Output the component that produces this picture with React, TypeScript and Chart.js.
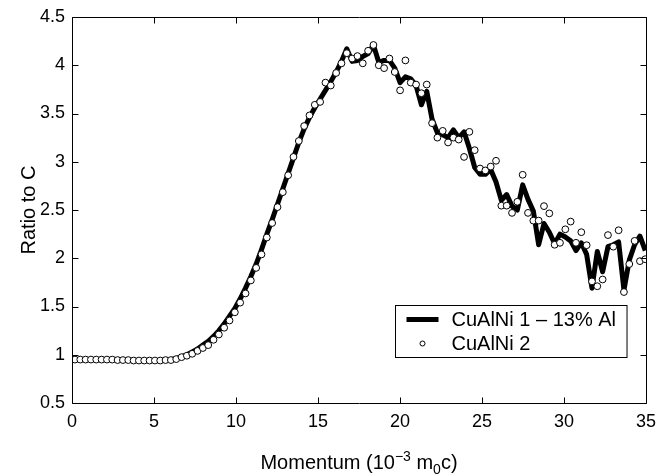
import React, { useEffect, useRef } from 'react';
import { Chart, registerables } from 'chart.js';

Chart.register(...registerables);

// Momentum values (10^-3 m0c) of the sampled points
const momentum = [
  0.18, 0.505, 0.83, 1.155, 1.48, 1.805, 2.13, 2.455, 2.78, 3.105,
  3.43, 3.755, 4.08, 4.405, 4.73, 5.055, 5.38, 5.705, 6.03, 6.355,
  6.68, 7.005, 7.33, 7.655, 7.98, 8.305, 8.63, 8.955, 9.28, 9.605,
  9.93, 10.255, 10.58, 10.905, 11.23, 11.555, 11.88, 12.205, 12.53, 12.855,
  13.18, 13.505, 13.83, 14.155, 14.48, 14.805, 15.13, 15.455, 15.78, 16.105,
  16.43, 16.755, 17.08, 17.405, 17.73, 18.055, 18.38, 18.705, 19.03, 19.355,
  19.68, 20.005, 20.33, 20.655, 20.98, 21.305, 21.63, 21.955, 22.28, 22.605,
  22.93, 23.255, 23.58, 23.905, 24.23, 24.555, 24.88, 25.205, 25.53, 25.855,
  26.18, 26.505, 26.83, 27.155, 27.48, 27.805, 28.13, 28.455, 28.78, 29.105,
  29.43, 29.755, 30.08, 30.405, 30.73, 31.055, 31.38, 31.705, 32.03, 32.355,
  32.68, 33.005, 33.33, 33.655, 33.98, 34.305, 34.63, 34.955,
];

// CuAlNi 1 – 13% Al (thick line)
const cualni1 = [
  0.95, 0.95, 0.95, 0.95, 0.95, 0.95, 0.95, 0.95, 0.95, 0.95,
  0.945, 0.94, 0.94, 0.94, 0.94, 0.94, 0.94, 0.945, 0.95, 0.96,
  0.98, 1.0, 1.03, 1.06, 1.1, 1.14, 1.19, 1.25, 1.32, 1.4,
  1.48, 1.58, 1.69, 1.81, 1.94, 2.09, 2.25, 2.4, 2.56, 2.72,
  2.88, 3.04, 3.2, 3.34, 3.46, 3.56, 3.65, 3.74, 3.83, 3.93,
  4.04, 4.17, 4.04, 4.05, 4.09, 4.12, 4.21, 4.03, 4.05, 4.05,
  3.97, 3.82, 3.88, 3.86, 3.79, 3.59, 3.73, 3.44, 3.3, 3.28,
  3.25, 3.33, 3.25, 3.31, 3.14, 2.94, 2.87, 2.87, 2.92, 2.79,
  2.6, 2.66, 2.54, 2.5, 2.76, 2.61, 2.49, 2.14, 2.36, 2.27,
  2.15, 2.25, 2.22, 2.18, 2.08, 2.16, 2.04, 1.69, 2.07, 1.86,
  2.12, 2.14, 2.17, 1.67, 1.98, 2.14, 2.23, 2.08,
];

// CuAlNi 2 (open circles)
const cualni2 = [
  0.95, 0.95, 0.95, 0.95, 0.95, 0.95, 0.95, 0.95, 0.945, 0.945,
  0.945, 0.94, 0.94, 0.94, 0.94, 0.94, 0.94, 0.945, 0.945, 0.955,
  0.975, 0.99, 1.01, 1.04, 1.07, 1.1, 1.155, 1.21, 1.28, 1.355,
  1.44, 1.54, 1.635, 1.77, 1.9, 2.04, 2.215, 2.365, 2.53, 2.685,
  2.86, 3.05, 3.215, 3.37, 3.48, 3.59, 3.62, 3.82, 3.79, 3.92,
  4.02, 4.125, 4.07, 4.095, 4.02, 4.15, 4.21, 4.0, 3.97, 4.07,
  3.93, 3.74, 4.05, 3.82, 3.8, 3.71, 3.8, 3.4, 3.25, 3.32,
  3.2, 3.25, 3.23, 3.05, 3.31, 3.12, 2.93, 2.91, 2.95, 3.01,
  2.545, 2.545, 2.47, 2.585, 2.865, 2.47, 2.39, 2.39, 2.54, 2.465,
  2.14, 2.16, 2.3, 2.38, 2.16, 2.27, 2.135, 1.76, 1.71, 1.78,
  2.24, 2.12, 2.29, 1.65, 1.94, 2.18, 1.97, 1.99,
];

const seriesNames = ['CuAlNi 1 \u2013 13% Al', 'CuAlNi 2'];
const xRange = [0, 35];
const yRange = [0.5, 4.5];
const xStep = 5;
const yStep = 0.5;
const yTitle = 'Ratio to C';
// x title pieces: [text, kind]
const xTitleParts: [string, string][] = [
  ['Momentum (10', 'normal'],
  ['\u22123', 'sup'],
  [' m', 'normal'],
  ['0', 'sub'],
  ['c)', 'normal'],
];

const FAMILY = '"Liberation Sans", Arial, Helvetica, sans-serif';
const font = (size: number) => `${size}px ${FAMILY}`;

const framePlugin = {
  id: 'frame',
  afterDatasetsDraw(chart: any) {
    const { ctx, chartArea: ca, scales } = chart;
    const L = Math.round(ca.left) + 0.5;
    const R = Math.round(ca.right) + 0.5;
    const T = Math.round(ca.top) + 0.5;
    const B = Math.round(ca.bottom) + 0.5;
    ctx.save();
    ctx.strokeStyle = '#000';
    ctx.lineWidth = 1;
    ctx.beginPath();
    ctx.rect(L, T, R - L, B - T);
    const tl = 6;
    scales.x.ticks.forEach((t: any) => {
      const px = Math.round(scales.x.getPixelForValue(t.value)) + 0.5;
      ctx.moveTo(px, B); ctx.lineTo(px, B - tl);
      ctx.moveTo(px, T); ctx.lineTo(px, T + tl);
    });
    scales.y.ticks.forEach((t: any) => {
      const py = Math.round(scales.y.getPixelForValue(t.value)) + 0.5;
      ctx.moveTo(L, py); ctx.lineTo(L + tl, py);
      ctx.moveTo(R, py); ctx.lineTo(R - tl, py);
    });
    ctx.stroke();
    ctx.restore();
  },
  afterDraw(chart: any) {
    const { ctx, chartArea: ca } = chart;
    ctx.save();
    ctx.fillStyle = '#000';
    ctx.strokeStyle = '#000';

    // Y title
    ctx.font = font(20);
    ctx.textAlign = 'center';
    ctx.textBaseline = 'middle';
    ctx.save();
    ctx.translate(29, (ca.top + ca.bottom) / 2);
    ctx.rotate(-Math.PI / 2);
    ctx.fillText(yTitle, 0, 0);
    ctx.restore();

    // X title with super/subscript
    ctx.textAlign = 'left';
    ctx.textBaseline = 'alphabetic';
    const sizes: Record<string, number> = { normal: 20, sup: 14, sub: 14 };
    const shifts: Record<string, number> = { normal: 0, sup: -8, sub: 5 };
    let total = 0;
    xTitleParts.forEach(([txt, kind]) => {
      ctx.font = font(sizes[kind]);
      total += ctx.measureText(txt).width;
    });
    let x = (ca.left + ca.right) / 2 - total / 2;
    const base = ca.bottom + 66;
    xTitleParts.forEach(([txt, kind]) => {
      ctx.font = font(sizes[kind]);
      ctx.fillText(txt, x, base + shifts[kind]);
      x += ctx.measureText(txt).width;
    });

    // Legend
    ctx.font = font(20);
    const tw = Math.max(...seriesNames.map((s) => ctx.measureText(s).width));
    const boxW = 56 + tw + 11;
    const boxH = 52;
    const bx = Math.round(ca.right - 19 - boxW) + 0.5;
    const by = Math.round(ca.bottom - 46 - boxH) + 0.5;
    ctx.fillStyle = '#fff';
    ctx.fillRect(bx, by, boxW, boxH);
    ctx.lineWidth = 1;
    ctx.strokeRect(bx, by, boxW, boxH);
    const row1 = by + 14;
    const row2 = by + 38;
    ctx.lineWidth = 5;
    ctx.beginPath();
    ctx.moveTo(bx + 11, row1);
    ctx.lineTo(bx + 43, row1);
    ctx.stroke();
    ctx.lineWidth = 1;
    ctx.beginPath();
    ctx.arc(bx + 27, row2, 2.5, 0, Math.PI * 2);
    ctx.fillStyle = '#fff';
    ctx.fill();
    ctx.stroke();
    ctx.fillStyle = '#000';
    ctx.textBaseline = 'middle';
    ctx.fillText(seriesNames[0], bx + 56, row1 + 1);
    ctx.fillText(seriesNames[1], bx + 56, row2 + 1);
    ctx.restore();
  },
};

export default function App() {
  const ref = useRef<HTMLCanvasElement>(null);
  useEffect(() => {
    document.body.style.margin = '0';
    const canvas = ref.current!;
    const chart = new Chart(canvas, {
      type: 'scatter',
      data: {
        datasets: [
          {
            label: seriesNames[1],
            data: momentum.map((m, i) => ({ x: m, y: cualni2[i] })),
            showLine: false,
            pointRadius: 3.4,
            pointBorderWidth: 1,
            pointBorderColor: '#000',
            pointBackgroundColor: '#fff',
            order: 1,
          },
          {
            label: seriesNames[0],
            data: momentum.map((m, i) => ({ x: m, y: cualni1[i] })),
            showLine: true,
            borderColor: '#000',
            backgroundColor: '#000',
            borderWidth: 5,
            pointRadius: 0,
            borderJoinStyle: 'round',
            tension: 0,
            order: 2,
          },
        ],
      } as any,
      options: {
        responsive: false,
        animation: false,
        devicePixelRatio: 1,
        layout: { padding: { left: 0, right: 12, top: 17, bottom: 0 } },
        plugins: { legend: { display: false }, tooltip: { enabled: false } },
        scales: {
          x: {
            type: 'linear',
            min: xRange[0],
            max: xRange[1],
            ticks: {
              stepSize: xStep,
              color: '#000',
              font: { family: FAMILY, size: 18 },
              padding: 8,
              maxRotation: 0,
              callback: (v: any) => String(v),
            },
            grid: { display: false, drawTicks: false },
            border: { display: false },
            afterFit: (s: any) => {
              s.height = 73;
              s.paddingLeft = 0;
              s.paddingRight = 0;
            },
          },
          y: {
            type: 'linear',
            min: yRange[0],
            max: yRange[1],
            ticks: {
              stepSize: yStep,
              color: '#000',
              font: { family: FAMILY, size: 18 },
              padding: 7,
              callback: (v: any) => String(Math.round(Number(v) * 10) / 10),
            },
            grid: { display: false, drawTicks: false },
            border: { display: false },
            afterFit: (s: any) => {
              s.width = 72;
              s.paddingTop = 0;
              s.paddingBottom = 0;
            },
          },
        },
      } as any,
      plugins: [framePlugin],
    });
    return () => chart.destroy();
  }, []);
  return (
    <div style={{ width: 658, height: 476 }}>
      <canvas ref={ref} width={658} height={476} style={{ display: 'block' }} />
    </div>
  );
}
